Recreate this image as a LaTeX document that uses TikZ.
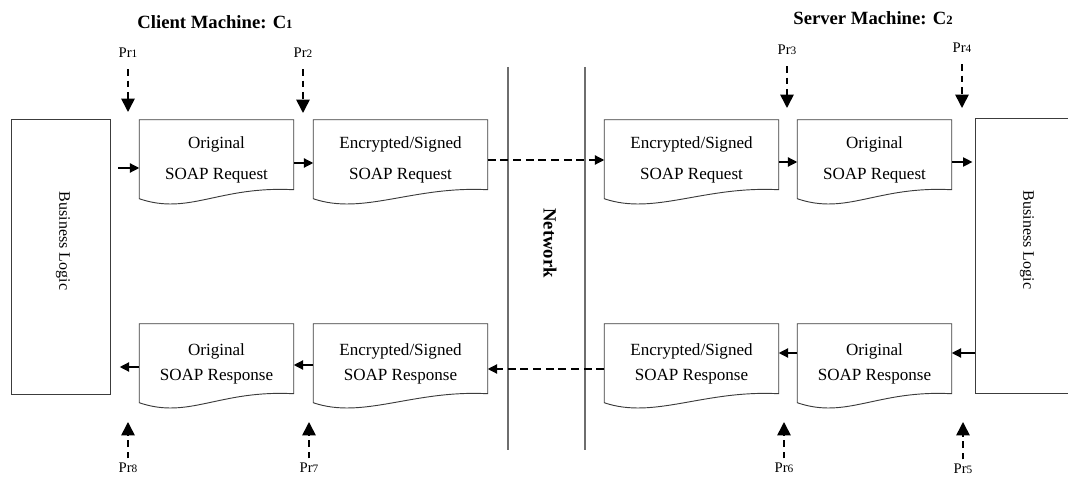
\documentclass[tikz,border=0pt]{standalone}
\usepackage{fontspec}
\setmainfont{Liberation Serif}
\usetikzlibrary{positioning,arrows.meta,calc}

\definecolor{edgegray}{HTML}{3C3C3C}
\definecolor{netgray}{HTML}{6E6E6E}

\newcommand{\pr}[1]{Pr{\fontsize{8.5}{8.5}\selectfont #1}}
\newcommand{\mach}[1]{C{\fontsize{9.5}{9.5}\selectfont #1}}

% document outline: flat top, wavy bottom
\newcommand{\docoutline}[1]{%
  \draw[docline] (#1.north west) -- (#1.north east)
    -- ($(#1.north east)+(0,70)$)
    .. controls +(-75,-4) and +(50,17) .. ($(#1.north west)+(0,79)$)
    -- cycle;}

\begin{document}
\begin{tikzpicture}[x=0.75pt,y=-0.75pt,
  docline/.style={draw=edgegray,line width=0.7pt},
  docshort/.style={minimum width=115.5pt,minimum height=60pt,inner sep=0pt,
    align=center,font=\fontsize{12.8}{15.4}\selectfont},
  doclong/.style={docshort,minimum width=130.5pt},
  blbox/.style={draw=edgegray,line width=0.65pt,minimum width=74.25pt,
    minimum height=206.25pt,inner sep=0pt},
  bltext/.style={rotate=-90,font=\fontsize{12}{14}\selectfont},
  arr/.style={-{Triangle[length=7pt,width=7pt]},line width=0.9pt},
  netarr/.style={arr,dash pattern=on 6pt off 3.5pt},
  probe/.style={-{Triangle[length=10pt,width=10pt]},line width=1.2pt,
    dash pattern=on 5pt off 3.5pt},
  prlabel/.style={font=\fontsize{11}{13}\selectfont},
  title/.style={font=\fontsize{14}{16}\selectfont\bfseries},
  netline/.style={draw=netgray,line width=0.9pt}]
  \useasboundingbox (0,0) rectangle (1068,477);

  % machines
  \node[title] (c1) at (215,22) {Client Machine: \mach{1}};
  \node[title] (c2) at (873,18) {Server Machine: \mach{2}};

  % business logic on both ends
  \node[blbox] (bl1) at (60.5,256.5) {};
  \node[bltext] (bl1t) at (63,241) {Business Logic};
  \node[blbox] (bl2) at (1025,255.5) {};
  \node[bltext] (bl2t) at (1027,240) {Business Logic};

  % network
  \draw[netline] (508,67) -- (508,450);
  \draw[netline] (585,67) -- (585,450);
  \node[rotate=-90,font=\fontsize{14}{16}\selectfont\bfseries] (net) at (550,243) {Network};

  % messages
  \node[docshort] (d1) at (216.5,160) {Original\\[8.4pt]SOAP Request};
  \node[doclong]  (d2) at (400.5,160) {Encrypted/Signed\\[8.4pt]SOAP Request};
  \node[doclong]  (d3) at (691.5,160) {Encrypted/Signed\\[8.4pt]SOAP Request};
  \node[docshort] (d4) at (874.5,160) {Original\\[8.4pt]SOAP Request};
  \node[docshort] (d5) at (216.5,364) {Original\\[3.9pt]SOAP Response};
  \node[doclong]  (d6) at (400.5,364) {Encrypted/Signed\\[3.9pt]SOAP Response};
  \node[doclong]  (d7) at (691.5,364) {Encrypted/Signed\\[3.9pt]SOAP Response};
  \node[docshort] (d8) at (874.5,364) {Original\\[3.9pt]SOAP Response};
  \foreach \i in {1,...,8}
    \docoutline{d\i};

  % request
  \draw[arr,shorten <=6pt] ($(bl1.east |- d1.west)+(0,8)$) -- ($(d1.west)+(0,8)$);
  \draw[arr] ($(d1.east)+(0,3)$) -- ($(d2.west)+(0,3)$);
  \draw[netarr] (d2.east) -- (d3.west);
  \draw[arr] ($(d3.east)+(0,2)$) -- ($(d4.west)+(0,2)$);
  \draw[arr,shorten >=2pt] ($(d4.east)+(0,2)$) -- ($(d4.east -| bl2.west)+(0,2)$);

  % response
  \draw[arr] ($(bl2.west |- d8.east)+(0,-11)$) -- ($(d8.east)+(0,-11)$);
  \draw[arr] ($(d8.west)+(0,-11)$) -- ($(d7.east)+(0,-11)$);
  \draw[netarr] ($(d7.west)+(0,5)$) -- ($(d6.east)+(0,5)$);
  \draw[arr] ($(d6.west)+(0,1)$) -- ($(d5.east)+(0,1)$);
  \draw[arr,shorten >=7pt] ($(d5.west)+(0,3)$) -- ($(bl1.east |- d5.west)+(0,3)$);

  % probes
  \foreach \i/\x/\y/\hy in {1/128/53/112, 2/303/53/113, 3/787/50/108, 4/962/48/108} {
    \node[prlabel] (p\i) at (\x,\y) {\pr{\i}};
    \coordinate (h\i) at (\x,\hy);
    \draw[probe,shorten <=5pt] (p\i) -- (h\i);
  }
  \foreach \i/\x/\y/\hy in {5/963/469/422, 6/784/468/422, 7/309/468/422, 8/128/468/422} {
    \node[prlabel] (p\i) at (\x,\y) {\pr{\i}};
    \coordinate (h\i) at (\x,\hy);
    \draw[probe] (p\i) -- (h\i);
  }
\end{tikzpicture}
\end{document}
